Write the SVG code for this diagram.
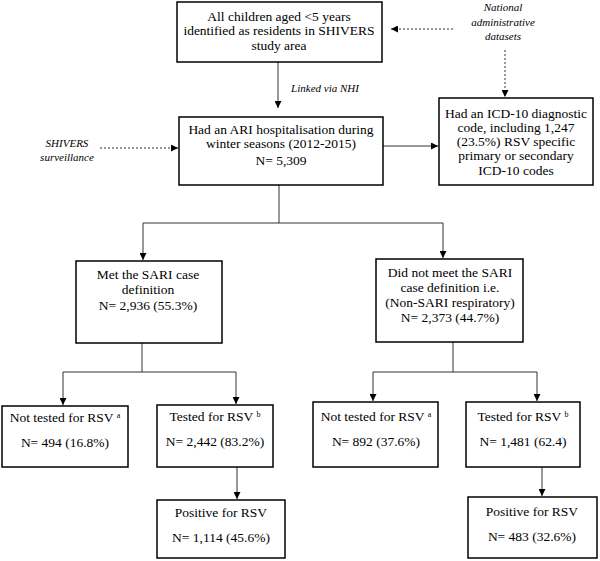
<svg xmlns="http://www.w3.org/2000/svg" width="600" height="561" viewBox="0 0 600 561" font-family="Liberation Serif, Times New Roman, Times, serif">
<defs>
<marker id="ah" viewBox="0 0 10 10" refX="10" refY="5" markerWidth="7" markerHeight="7" orient="auto" markerUnits="userSpaceOnUse">
<path d="M0,0 L10,5 L0,10 z" fill="#000"/>
</marker>
</defs>
<style>
.box{fill:#fff;stroke:#000;stroke-width:1.5}
.t{font-size:13.5px;fill:#000;text-anchor:middle}
.i{font-size:11px;font-style:italic;fill:#000;text-anchor:middle}
.c{fill:none;stroke:#333;stroke-width:1}
.d{fill:none;stroke:#333;stroke-width:1;stroke-dasharray:2,2}
.sup{font-size:8px}
</style>
<g id="connectors">
<path class="c" d="M278,62 V108" marker-end="url(#ah)"/>
<path class="d" d="M453,29 H391" marker-end="url(#ah)"/>
<path class="d" d="M505,50 V97" marker-end="url(#ah)"/>
<path class="d" d="M100,148 H178" marker-end="url(#ah)"/>
<path class="c" d="M383,146 H438" marker-end="url(#ah)"/>
<path class="c" d="M279,185 V223 H143"/>
<path class="c" d="M143,223 V260" marker-end="url(#ah)"/>
<path class="c" d="M279,223 H443 V258" marker-end="url(#ah)"/>
<path class="c" d="M142,343 V372 H63 V405" marker-end="url(#ah)"/>
<path class="c" d="M142,372 H236 V404" marker-end="url(#ah)"/>
<path class="c" d="M453,342 V372 H373 V401" marker-end="url(#ah)"/>
<path class="c" d="M453,372 H537 V401" marker-end="url(#ah)"/>
<path class="c" d="M237,467 V499" marker-end="url(#ah)"/>
<path class="c" d="M542,467 V496" marker-end="url(#ah)"/>
</g>
<g id="lbl-nhi"><text class="i" x="325" y="92">Linked via NHI</text></g>
<g id="lbl-national">
<text class="i" x="503" y="11">National</text>
<text class="i" x="503" y="26">administrative</text>
<text class="i" x="503" y="40">datasets</text>
</g>
<g id="lbl-shivers">
<text class="i" x="67" y="147">SHIVERS</text>
<text class="i" x="67" y="161">surveillance</text>
</g>
<g id="n-all">
<rect class="box" x="177" y="2" width="205" height="60"/>
<text class="t" x="279" y="21">All children aged &lt;5 years</text>
<text class="t" x="279" y="35">identified as residents in SHIVERS</text>
<text class="t" x="279" y="50">study area</text>
</g>
<g id="n-ari">
<rect class="box" x="179" y="117" width="204" height="68"/>
<text class="t" x="281" y="134">Had an ARI hospitalisation during</text>
<text class="t" x="281" y="148">winter seasons (2012-2015)</text>
<text class="t" x="281" y="165">N= 5,309</text>
</g>
<g id="n-icd">
<rect class="box" x="439" y="98" width="154" height="87"/>
<text class="t" x="516" y="118">Had an ICD-10 diagnostic</text>
<text class="t" x="516" y="132">code, including 1,247</text>
<text class="t" x="516" y="146">(23.5%) RSV specific</text>
<text class="t" x="516" y="160">primary or secondary</text>
<text class="t" x="516" y="175">ICD-10 codes</text>
</g>
<g id="n-sari">
<rect class="box" x="76" y="261" width="146" height="82"/>
<text class="t" x="148" y="279">Met the SARI case</text>
<text class="t" x="148" y="294">definition</text>
<text class="t" x="148" y="310">N= 2,936 (55.3%)</text>
</g>
<g id="n-nonsari">
<rect class="box" x="376" y="259" width="147" height="83"/>
<text class="t" x="450" y="277">Did not meet the SARI</text>
<text class="t" x="450" y="292">case definition i.e.</text>
<text class="t" x="450" y="307">(Non-SARI respiratory)</text>
<text class="t" x="450" y="322">N= 2,373 (44.7%)</text>
</g>
<g id="n-nt1">
<rect class="box" x="2" y="406" width="126" height="61"/>
<text class="t" x="65" y="422">Not tested for RSV <tspan class="sup" dy="-4">a</tspan></text>
<text class="t" x="65" y="447">N= 494 (16.8%)</text>
</g>
<g id="n-t1">
<rect class="box" x="157" y="405" width="116" height="62"/>
<text class="t" x="215" y="421">Tested for RSV <tspan class="sup" dy="-4">b</tspan></text>
<text class="t" x="215" y="446">N= 2,442 (83.2%)</text>
</g>
<g id="n-p1">
<rect class="box" x="157" y="500" width="128" height="58"/>
<text class="t" x="221" y="517">Positive for RSV</text>
<text class="t" x="221" y="542">N= 1,114 (45.6%)</text>
</g>
<g id="n-nt2">
<rect class="box" x="313" y="402" width="125" height="65"/>
<text class="t" x="376" y="421">Not tested for RSV <tspan class="sup" dy="-4">a</tspan></text>
<text class="t" x="376" y="446">N= 892 (37.6%)</text>
</g>
<g id="n-t2">
<rect class="box" x="466" y="402" width="114" height="65"/>
<text class="t" x="523" y="421">Tested for RSV <tspan class="sup" dy="-4">b</tspan></text>
<text class="t" x="523" y="446">N= 1,481 (62.4)</text>
</g>
<g id="n-p2">
<rect class="box" x="468" y="497" width="129" height="61"/>
<text class="t" x="532" y="516">Positive for RSV</text>
<text class="t" x="532" y="541">N= 483 (32.6%)</text>
</g>
</svg>
